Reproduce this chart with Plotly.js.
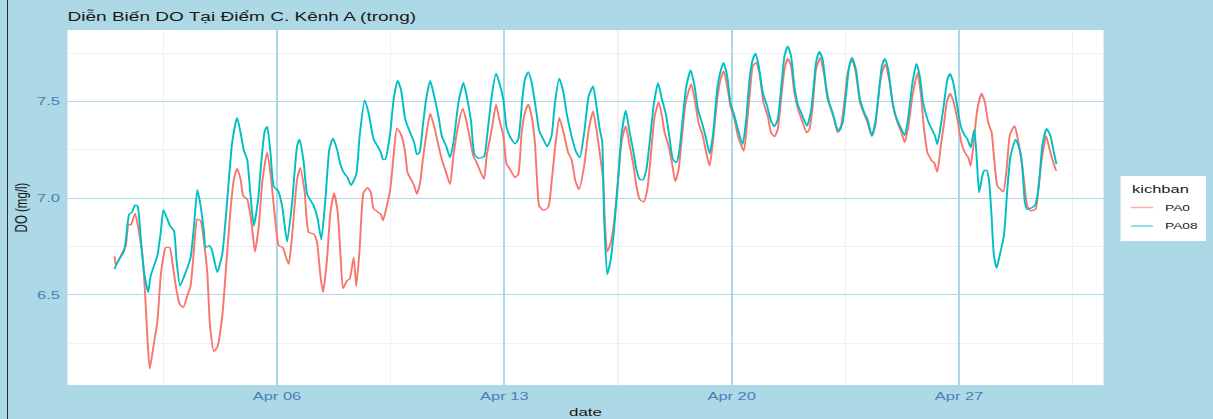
<!DOCTYPE html>
<html>
<head>
<meta charset="utf-8">
<script src="https://cdn.plot.ly/plotly-3.0.1.min.js"></script>
<style>
html, body { margin:0; padding:0; background:#ADD8E6; width:1213px; height:419px; overflow:hidden; }
#chart { position:absolute; left:0; top:0; width:809px; height:419px; transform-origin:0 0; }
#edge { position:absolute; left:7px; top:0; width:1px; height:419px; background:#2b2b2b; }
</style>
</head>
<body>
<div id="chart"></div>
<div id="edge"></div>
<script>
// ---- data (hours after 2024-04-01 00:00, DO in mg/l) ----
const startDate = "2024-04-01";
const seriesNames = ["PA0", "PA08"];
const seriesColors = ["#F8766D", "#00BFC4"];

const pa0Hours = [0,1.0,5.8,8.3,10.3,12.0,15.2,18.1,20.6,22.5,24.3,26.0,29.2,31.6,34.1,35.8,37.8,40.7,42.7,45.6,48.1,50.8,53.8,56.2,58.7,61.1,63.6,66.1,68.5,70.5,73.4,75.9,79.6,82.5,85.7,88.2,90.6,93.1,95.1,98.0,101.2,103.7,106.6,109.1,112.8,115.7,118.9,121.4,124.3,126.3,128.7,131.2,134.9,137.3,140.5,143.5,147.2,149.6,152.1,154.1,157.0,159.5,162.2,164.9,167.0,168.8,171.7,173.7,176.7,178.6,181.1,184.0,187.0,189.4,191.4,195.1,196.8,198.3,201.2,203.7,206.2,208.6,211.6,214.8,216.5,219.7,221.4,223.4,225.8,227.8,230.2,233.2,236.1,238.6,241.8,245.0,247.9,250.4,254.1,257.3,259.7,262.7,265.1,268.1,270.1,273.0,275.0,278.7,281.9,284.3,287.3,289.7,292.2,295.9,298.3,300.8,303.2,305.7,308.2,310.6,312.3,313.8,316.8,320.4,322.9,325.4,328.6,331.5,335.2,337.7,340.5,343.3,347.0,350.4,353.6,356.1,358.5,361.0,362.2,364.0,366.7,369.1,372.1,374.5,377.7,380.7,383.1,385.6,388.0,391.0,393.7,396.2,399.1,402.1,404.5,406.5,409.4,411.9,414.3,416.8,419.3,422.0,426.1,429.1,431.5,434.7,437.2,439.7,442.1,445.3,447.8,450.2,452.7,455.1,458.1,460.6,465.0,467.4,469.9,471.6,474.1,476.5,479.5,482.7,485.1,487.6,490.0,492.5,495.0,497.4,499.9,502.3,504.8,508.5,511.4,513.4,515.9,518.3,521.5,524.5,526.9,529.4,531.8,534.3,536.8,539.2,541.7,544.9,547.8,550.8,554.0,556.4,559.6,562.1,565.0,567.0,569.4,572.4,575.3,578.5,581.5,583.9,586.6,589.6,593.3,595.7,598.2,600.7,603.9,605.6,608.0,610.5,613.0,614.9,617.4,619.8,622.8,626.0,628.4,630.9,632.6,635.1,637.5,640.7,643.2,645.6,648.1,649.8,652.3,654.7,656.7,659.2,661.4,663.3,665.1,667.5,670.0,671.9,674.4,676.9,680.5,683.0,685.5,688.4,690.9,693.3,695.8];
const pa0Values = [6.699,6.655,6.719,6.754,6.866,6.861,6.921,6.823,6.702,6.513,6.272,6.117,6.255,6.358,6.599,6.685,6.745,6.745,6.668,6.530,6.453,6.435,6.496,6.547,6.737,6.892,6.883,6.771,6.616,6.341,6.208,6.229,6.392,6.651,6.943,7.098,7.153,7.098,7.012,6.995,6.874,6.723,6.857,7.081,7.239,7.098,6.874,6.754,6.745,6.702,6.659,6.806,7.098,7.158,7.029,6.823,6.814,6.771,6.599,6.513,6.685,6.926,7.026,6.926,6.700,6.533,6.573,6.582,6.694,6.544,6.737,7.029,7.055,7.029,6.947,6.926,6.917,6.883,6.960,7.046,7.219,7.362,7.331,7.236,7.133,7.090,7.064,7.021,7.081,7.201,7.322,7.439,7.374,7.296,7.201,7.133,7.072,7.219,7.382,7.465,7.408,7.305,7.219,7.176,7.141,7.098,7.219,7.356,7.486,7.408,7.322,7.176,7.150,7.107,7.124,7.339,7.442,7.486,7.425,7.288,7.081,6.960,6.938,6.952,7.081,7.253,7.417,7.348,7.236,7.201,7.090,7.046,7.167,7.356,7.451,7.356,7.236,7.098,6.892,6.723,6.771,6.874,7.098,7.288,7.374,7.270,7.184,7.064,6.995,6.981,7.046,7.219,7.425,7.497,7.425,7.339,7.270,7.184,7.086,7.150,7.322,7.494,7.592,7.494,7.391,7.322,7.236,7.167,7.288,7.511,7.615,7.658,7.580,7.477,7.408,7.322,7.244,7.391,7.580,7.684,7.701,7.649,7.494,7.425,7.339,7.319,7.356,7.511,7.666,7.723,7.684,7.546,7.468,7.391,7.339,7.356,7.477,7.666,7.727,7.632,7.511,7.460,7.408,7.339,7.374,7.494,7.649,7.718,7.649,7.494,7.434,7.391,7.322,7.374,7.563,7.649,7.692,7.615,7.477,7.391,7.339,7.288,7.374,7.529,7.649,7.546,7.356,7.236,7.193,7.184,7.136,7.270,7.391,7.494,7.542,7.503,7.408,7.279,7.236,7.210,7.167,7.305,7.460,7.542,7.494,7.391,7.339,7.219,7.064,7.046,7.033,7.150,7.322,7.356,7.374,7.305,7.201,7.098,6.960,6.935,6.943,7.081,7.219,7.322,7.253,7.193,7.141];

const pa08Hours = [0,2.1,7.1,10.8,12.7,15.2,16.9,19.4,21.8,24.8,26.7,31.6,34.1,36.1,39.0,41.0,43.9,45.7,48.4,52.5,56.2,58.7,61.1,63.6,66.1,67.3,69.7,71.7,75.9,79.6,83.3,86.9,90.6,93.1,95.6,98.0,100.5,102.9,106.1,108.6,111.0,112.8,115.2,117.7,120.9,123.8,127.5,131.2,134.9,136.8,139.8,142.3,147.2,150.1,152.8,155.8,158.7,161.4,164.4,166.8,169.3,172.2,174.7,178.6,181.1,184.8,187.7,191.4,194.3,196.8,198.3,200.0,203.7,206.2,209.1,211.6,214.8,218.4,221.4,223.4,225.3,227.8,230.2,233.2,235.6,239.3,241.8,245.0,247.9,250.4,254.1,257.8,260.2,263.4,265.9,268.8,273.0,275.0,278.7,281.9,284.3,287.3,289.7,292.7,295.9,298.3,301.3,303.2,305.7,308.2,311.4,313.8,316.8,319.7,322.9,325.4,328.6,331.5,334.0,337.7,340.8,343.8,347.0,350.4,353.6,356.1,358.5,360.3,361.7,364.0,366.7,369.1,372.1,374.5,377.7,380.7,383.1,385.6,388.0,390.5,393.0,395.4,398.6,401.6,404.5,407.7,410.2,412.6,415.1,417.5,420.0,422.5,425.7,428.6,431.1,434.7,437.2,439.7,442.1,445.3,447.8,450.0,452.7,455.1,458.1,460.6,464.2,466.7,469.2,471.6,473.6,476.0,479.0,482.2,485.1,487.6,490.0,492.5,495.0,497.4,499.9,502.3,504.8,507.3,511.7,514.6,515.9,517.1,518.3,520.8,523.2,525.7,528.1,530.6,533.6,535.5,538.0,540.4,542.9,544.9,547.8,550.8,554.0,556.4,559.6,562.1,564.5,567.0,569.2,571.7,574.9,577.3,580.3,583.9,586.6,589.6,592.5,595.0,597.5,600.7,603.9,606.3,608.0,610.5,613.0,615.4,617.4,619.8,622.3,625.2,627.7,630.2,632.6,633.8,635.3,637.0,638.8,640.7,642.4,644.4,646.1,647.9,649.8,651.8,654.0,657.2,659.7,662.1,665.8,668.8,670.7,672.7,674.4,678.1,680.5,683.0,685.5,688.7,691.6,694.1,696.0];
const pa08Values = [6.633,6.668,6.728,6.917,6.926,6.964,6.960,6.788,6.616,6.513,6.599,6.702,6.823,6.940,6.891,6.857,6.831,6.685,6.547,6.616,6.694,6.857,7.043,6.960,6.823,6.745,6.754,6.737,6.616,6.711,6.995,7.288,7.417,7.339,7.245,7.201,7.012,6.857,6.995,7.201,7.348,7.370,7.236,7.060,7.038,6.960,6.774,6.978,7.270,7.305,7.184,7.021,6.960,6.892,6.785,6.995,7.253,7.310,7.253,7.176,7.133,7.107,7.067,7.124,7.322,7.508,7.442,7.305,7.270,7.236,7.201,7.201,7.339,7.511,7.609,7.563,7.408,7.339,7.288,7.227,7.236,7.374,7.511,7.609,7.546,7.425,7.322,7.270,7.210,7.287,7.494,7.598,7.529,7.399,7.227,7.207,7.215,7.305,7.529,7.646,7.598,7.511,7.365,7.313,7.282,7.305,7.511,7.615,7.654,7.598,7.460,7.348,7.305,7.267,7.322,7.494,7.620,7.554,7.442,7.322,7.244,7.210,7.339,7.529,7.580,7.477,7.356,7.296,6.909,6.607,6.685,6.840,7.098,7.322,7.455,7.339,7.253,7.150,7.098,7.095,7.150,7.288,7.494,7.597,7.511,7.425,7.305,7.201,7.184,7.253,7.425,7.580,7.663,7.580,7.460,7.374,7.305,7.231,7.322,7.563,7.658,7.701,7.632,7.494,7.425,7.356,7.279,7.408,7.615,7.718,7.749,7.684,7.546,7.477,7.400,7.370,7.408,7.563,7.735,7.787,7.735,7.580,7.486,7.443,7.374,7.451,7.529,7.615,7.701,7.758,7.718,7.580,7.494,7.443,7.365,7.348,7.391,7.529,7.684,7.727,7.666,7.511,7.443,7.408,7.322,7.391,7.529,7.684,7.722,7.666,7.494,7.425,7.374,7.325,7.425,7.597,7.696,7.632,7.494,7.408,7.356,7.322,7.279,7.374,7.494,7.615,7.644,7.597,7.494,7.374,7.331,7.305,7.262,7.305,7.356,7.219,7.029,7.098,7.141,7.145,7.098,6.926,6.702,6.638,6.702,6.806,7.047,7.219,7.305,7.253,7.167,6.978,6.943,6.952,6.969,7.064,7.270,7.360,7.322,7.236,7.176];

const yTickLabels = ["6.5", "7.0", "7.5"];
const xTickLabels = ["Apr 06", "Apr 13", "Apr 20", "Apr 27"];

// ---- helpers ----
const START_MS = Date.parse(startDate + "T00:00:00Z");
function toDate(h) {
  return new Date(START_MS + h * 3600000).toISOString().slice(0, 19).replace("T", " ");
}
const FULL_W = 1213, INNER_W = 809, SCALE = FULL_W / INNER_W;
const PLOT_L = 67, PLOT_R = 1104, PLOT_T = 30, PLOT_B = 385;
function px(x) { return (x - PLOT_L) / (PLOT_R - PLOT_L); }
function py(y) { return (PLOT_B - y) / (PLOT_B - PLOT_T); }

const dataHours = [pa0Hours, pa08Hours];
const dataValues = [pa0Values, pa08Values];
const allH = pa0Hours.concat(pa08Hours);
const hMin = Math.min.apply(null, allH), hMax = Math.max.apply(null, allH);
const allV = pa0Values.concat(pa08Values);
const vMin = Math.min.apply(null, allV), vMax = Math.max.apply(null, allV);
const hPad = (hMax - hMin) * 0.05, vPad = (vMax - vMin) * 0.05;

const traces = seriesNames.map(function (name, i) {
  return {
    type: "scatter", mode: "lines", name: name,
    x: dataHours[i].map(toDate), y: dataValues[i],
    line: { color: seriesColors[i], width: 1.3, shape: "spline", smoothing: 0.5 },
    showlegend: false, hoverinfo: "skip"
  };
});

const DAY = 86400000;
const FONT = "Liberation Sans, Arial, sans-serif";
const tickColor = "#4682B4";

const shapes = [
  { type: "rect", xref: "paper", yref: "paper", x0: px(1121), x1: px(1206.5), y0: py(241), y1: py(176),
    fillcolor: "#FFFFFF", line: { width: 0 }, layer: "above" }
];
const annotations = [
  { xref: "paper", yref: "paper", x: px(1129.5), y: py(188.5), xanchor: "left", yanchor: "middle",
    text: "kichban", showarrow: false, font: { family: FONT, size: 11, color: "#1a1a1a" } }
];
const legendRowsY = [207.5, 226];
seriesNames.forEach(function (name, i) {
  shapes.push({ type: "line", xref: "paper", yref: "paper", x0: px(1131.5), x1: px(1153.5),
    y0: py(legendRowsY[i]), y1: py(legendRowsY[i]), line: { color: seriesColors[i], width: 1.5 }, opacity: 0.6, layer: "above" });
  annotations.push({ xref: "paper", yref: "paper", x: px(1162.5), y: py(legendRowsY[i]), xanchor: "left", yanchor: "middle",
    text: name, showarrow: false, font: { family: FONT, size: 9.2, color: "#1a1a1a" } });
});

const layout = {
  width: INNER_W, height: 419,
  margin: { l: 45, r: 73, t: 30, b: 34, pad: 0 },
  paper_bgcolor: "#ADD8E6", plot_bgcolor: "#FFFFFF",
  font: { family: FONT },
  title: { text: "Diễn Biến DO Tại Điểm C. Kênh A (trong)", x: 0, xref: "paper", xanchor: "left",
    y: 1 - 17 / 419, yref: "container", yanchor: "middle",
    font: { family: FONT, size: 12.7, color: "#1a1a1a" } },
  xaxis: {
    type: "date", range: [toDate(hMin - hPad), toDate(hMax + hPad)],
    tickmode: "linear", tick0: toDate(120), dtick: 7 * DAY, tickformat: "%b %d",
    showgrid: true, gridcolor: "#ADD8E6", gridwidth: 1.2, zeroline: false, showline: false, ticks: "",
    minor: { tick0: toDate(120), dtick: 3.5 * DAY, showgrid: true, gridcolor: "#F0F0F0", gridwidth: 1, ticks: "" },
    tickfont: { family: FONT, size: 11, color: tickColor }, ticklabelstandoff: 3,
    title: { text: "date", font: { family: FONT, size: 11.3, color: "#1a1a1a" }, standoff: 7 },
    automargin: false, fixedrange: true
  },
  yaxis: {
    range: [vMin - vPad, vMax + vPad],
    tickmode: "array", tickvals: yTickLabels.map(Number), ticktext: yTickLabels,
    showgrid: true, gridcolor: "#ADD8E6", gridwidth: 1.2, zeroline: false, showline: false, ticks: "",
    minor: { tickvals: [6.25, 6.75, 7.25, 7.75], showgrid: true, gridcolor: "#F0F0F0", gridwidth: 1, ticks: "" },
    tickfont: { family: FONT, size: 11, color: tickColor }, ticklabelstandoff: 4,
    title: { text: "DO (mg/l)", font: { family: FONT, size: 11.5, color: "#1a1a1a" }, standoff: 3 },
    automargin: false, fixedrange: true
  },
  shapes: shapes,
  annotations: annotations,
  showlegend: false
};

Plotly.newPlot("chart", traces, layout, { displayModeBar: false, staticPlot: true }).then(function () {
  document.getElementById("chart").style.transform = "scaleX(" + SCALE + ")";
});
</script>
</body>
</html>
